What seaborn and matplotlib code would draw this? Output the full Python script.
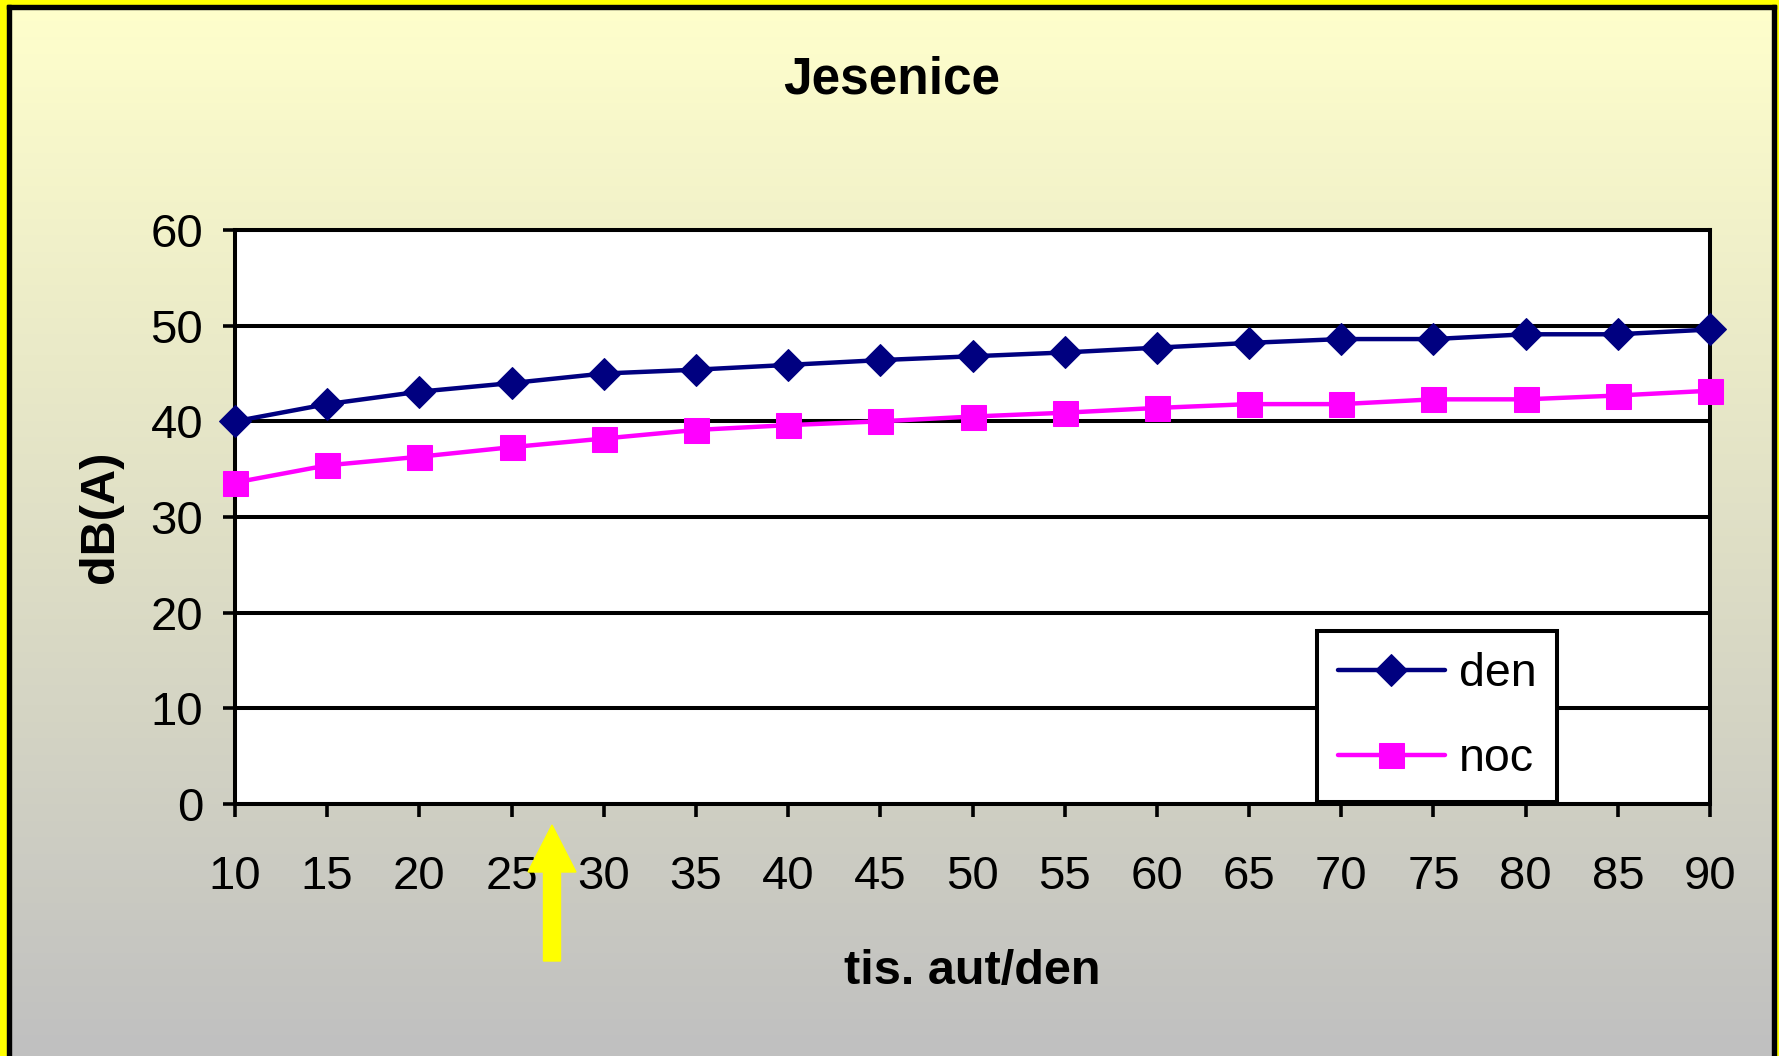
import numpy as np
import pandas as pd
import matplotlib
matplotlib.use("Agg")
import matplotlib.pyplot as plt
from matplotlib.patches import Rectangle, Polygon
from matplotlib.transforms import IdentityTransform
import seaborn as sns

# === Data ===
cars = [10, 15, 20, 25, 30, 35, 40, 45, 50, 55, 60, 65, 70, 75, 80, 85, 90]
den = [40.0, 41.8, 43.1, 44.0, 45.0, 45.4, 45.9, 46.4, 46.8,
       47.2, 47.7, 48.2, 48.6, 48.6, 49.1, 49.1, 49.6]
noc = [33.6, 35.4, 36.3, 37.3, 38.2, 39.1, 39.6, 40.0, 40.5,
       40.9, 41.4, 41.8, 41.8, 42.3, 42.3, 42.7, 43.2]
x_ticks = list(range(10, 95, 5))
y_ticks = list(range(0, 70, 10))

df = pd.DataFrame({"cars": cars, "den": den, "noc": noc})

# === Setup ===
sns.set_style("white")
plt.rcParams['font.family'] = ['Liberation Sans', 'DejaVu Sans']
plt.rcParams['text.color'] = 'black'
plt.rcParams['axes.labelcolor'] = 'black'

W, H = 1779, 1056
fig = plt.figure(figsize=(W / 100, H / 100), dpi=100)

# background: yellow -> grey gradient with framed border
bg = fig.add_axes([0, 0, 1, 1], zorder=-10)
top_col = np.array([255, 255, 204]) / 255
bot_col = np.array([192, 192, 192]) / 255
t = np.linspace(0, 1, 256)[:, None]
grad = (top_col[None, :] * (1 - t) + bot_col[None, :] * t)[:, None, :]
bg.imshow(grad, extent=[0, W, H, 0], aspect="auto")
bg.set_xlim(0, W)
bg.set_ylim(H, 0)
bg.axis("off")
# yellow outer border, black inner line
bg.add_patch(Rectangle((0, 0), W, 5, color="#FFFF00"))
bg.add_patch(Rectangle((0, 0), 7, H, color="#FFFF00"))
bg.add_patch(Rectangle((W - 3.5, 0), 3.5, H, color="#FFFF00"))
bg.add_patch(Rectangle((7, 5), W - 10, 4, color="black"))
bg.add_patch(Rectangle((7, 5), 4, H, color="black"))
bg.add_patch(Rectangle((W - 7.5, 5), 4, H, color="black"))

# === Plot area ===
ax = fig.add_axes([235 / W, 1 - 804 / H, (1710 - 235) / W, (804 - 230) / H])
ax.set_facecolor("white")

sns.lineplot(data=df, x="cars", y="den", ax=ax, color="#000080", lw=3.2,
             marker="D", markersize=16, markeredgecolor="#000080", label="den",
             zorder=4, clip_on=False)
sns.lineplot(data=df, x="cars", y="noc", ax=ax, color="#FF00FF", lw=3.2,
             marker="s", markersize=18, markeredgecolor="#FF00FF", label="noc",
             zorder=4, clip_on=False)

ax.set_xlim(10, 90)
ax.set_ylim(0, 60)
ax.set_xticks(x_ticks)
ax.set_yticks(y_ticks)
ax.yaxis.grid(True, color="black", lw=2.9)
ax.xaxis.grid(False)
ax.set_axisbelow(True)
for s in ax.spines.values():
    s.set_color("black")
    s.set_linewidth(2.9)
ax.tick_params(axis="both", direction="out", length=9, width=2.6,
               color="black", labelsize=34, labelcolor="black")
ax.tick_params(axis="x", pad=28, bottom=True)
ax.tick_params(axis="y", pad=14, left=True)

ax.set_xlabel("tis. aut/den", fontsize=35, fontweight="bold", labelpad=36)
ax.set_ylabel("dB(A)", fontsize=35, fontweight="bold", labelpad=20)
fig.text(892 / W, 1 - 80 / H, "Jesenice", fontsize=37, fontweight="bold",
         ha="center", va="center")

# === Legend ===
leg = ax.legend(loc="lower left", bbox_to_anchor=(1317 / W, 1 - 802 / H),
                bbox_transform=fig.transFigure, borderaxespad=0,
                fontsize=33.5, frameon=True, fancybox=False, framealpha=1,
                edgecolor="black", handlelength=2.3, handletextpad=0.3,
                borderpad=0.45, labelspacing=0.88)
leg.get_frame().set_linewidth(2.9)
leg.set_zorder(6)

# === Yellow arrow under the x axis ===
tip_x, tip_y = 552, 825
arrow = [(tip_x, H - tip_y), (tip_x + 24, H - 872), (tip_x + 8.5, H - 872),
         (tip_x + 8.5, H - 961), (tip_x - 8.5, H - 961), (tip_x - 8.5, H - 872),
         (tip_x - 24, H - 872)]
fig.add_artist(Polygon(arrow, closed=True, color="#FFFF00",
                       transform=IdentityTransform(), zorder=8))

fig.savefig("out.png", dpi=100)
print("saved out.png")
